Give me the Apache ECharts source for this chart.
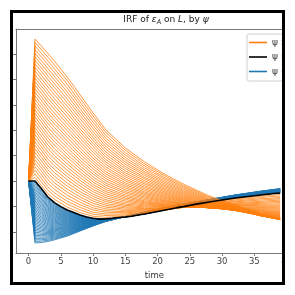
<!DOCTYPE html>
<html>
<head>
<meta charset="utf-8">
<script src="https://cdn.jsdelivr.net/npm/echarts@6/dist/echarts.min.js"></script>
<style>
html,body{margin:0;padding:0;background:#fff;}
#c{width:295px;height:295px;}
</style>
</head>
<body>
<div id="c"></div>
<script>
// ---- data ----
const timePoints = [0, 1, 2, 3, 4, 6, 8, 10, 12, 15, 18, 21, 24, 28, 32, 36, 39];
const baseTimes = [0,1,2,3,4,5,6,7,8,9,10,11,12,13,14,15,16,17,18,19,20,21,22,23,24,25,26,27,28,29,30,31,32,33,34,35,36,37,38,39];
const baseline = [0,0,-0.31,-0.63,-0.85,-1.01,-1.14,-1.24,-1.34,-1.42,-1.47,-1.50,-1.49,-1.47,-1.44,-1.42,-1.39,-1.34,-1.30,-1.25,-1.20,-1.15,-1.10,-1.05,-1.01,-0.96,-0.91,-0.87,-0.83,-0.79,-0.75,-0.71,-0.67,-0.64,-0.61,-0.58,-0.55,-0.52,-0.495,-0.47];

// orange curves (psi above baseline), one row per curve, values at timePoints
const orangeCurves = [
  [0,0.14,-0.18,-0.50,-0.72,-1.03,-1.24,-1.39,-1.43,-1.38,-1.28,-1.15,-1.02,-0.86,-0.71,-0.60,-0.53],
  [0,0.28,-0.04,-0.36,-0.59,-0.91,-1.14,-1.31,-1.36,-1.34,-1.26,-1.14,-1.03,-0.88,-0.75,-0.65,-0.59],
  [0,0.42,0.10,-0.23,-0.46,-0.80,-1.04,-1.23,-1.30,-1.30,-1.24,-1.13,-1.04,-0.91,-0.79,-0.70,-0.65],
  [0,0.56,0.24,-0.09,-0.33,-0.68,-0.94,-1.14,-1.23,-1.25,-1.21,-1.12,-1.04,-0.93,-0.82,-0.75,-0.70],
  [0,0.70,0.38,0.05,-0.20,-0.56,-0.84,-1.06,-1.17,-1.21,-1.18,-1.11,-1.04,-0.95,-0.86,-0.80,-0.75],
  [0,0.84,0.51,0.18,-0.07,-0.44,-0.73,-0.97,-1.10,-1.16,-1.15,-1.10,-1.04,-0.97,-0.89,-0.84,-0.80],
  [0,0.98,0.65,0.32,0.06,-0.32,-0.63,-0.88,-1.03,-1.11,-1.12,-1.09,-1.04,-0.99,-0.92,-0.88,-0.85],
  [0,1.12,0.79,0.45,0.19,-0.20,-0.52,-0.79,-0.96,-1.06,-1.09,-1.07,-1.04,-1.00,-0.94,-0.92,-0.90],
  [0,1.26,0.93,0.59,0.33,-0.08,-0.42,-0.70,-0.89,-1.01,-1.06,-1.05,-1.04,-1.01,-0.97,-0.96,-0.95],
  [0,1.40,1.06,0.72,0.46,0.05,-0.31,-0.61,-0.81,-0.96,-1.02,-1.03,-1.04,-1.02,-0.99,-1.00,-0.99],
  [0,1.54,1.20,0.86,0.60,0.17,-0.20,-0.52,-0.74,-0.91,-0.98,-1.01,-1.03,-1.03,-1.02,-1.04,-1.03],
  [0,1.68,1.34,1.00,0.73,0.29,-0.09,-0.42,-0.66,-0.85,-0.94,-0.99,-1.02,-1.04,-1.04,-1.07,-1.07],
  [0,1.82,1.48,1.14,0.87,0.42,0.02,-0.33,-0.58,-0.79,-0.90,-0.97,-1.01,-1.05,-1.06,-1.10,-1.11],
  [0,1.96,1.62,1.28,1.00,0.54,0.13,-0.23,-0.50,-0.73,-0.86,-0.94,-1.00,-1.05,-1.08,-1.13,-1.15],
  [0,2.10,1.76,1.42,1.14,0.67,0.25,-0.14,-0.42,-0.67,-0.82,-0.92,-0.99,-1.06,-1.10,-1.16,-1.19],
  [0,2.24,1.90,1.56,1.27,0.80,0.36,-0.04,-0.34,-0.61,-0.78,-0.89,-0.97,-1.06,-1.11,-1.18,-1.22],
  [0,2.38,2.04,1.70,1.41,0.93,0.48,0.06,-0.26,-0.55,-0.73,-0.86,-0.96,-1.06,-1.12,-1.21,-1.25],
  [0,2.52,2.18,1.84,1.55,1.05,0.59,0.16,-0.17,-0.48,-0.68,-0.82,-0.94,-1.06,-1.13,-1.23,-1.28],
  [0,2.66,2.32,1.98,1.69,1.18,0.71,0.27,-0.09,-0.42,-0.63,-0.79,-0.92,-1.06,-1.14,-1.25,-1.31],
  [0,2.80,2.46,2.12,1.83,1.31,0.82,0.37,0.00,-0.35,-0.58,-0.76,-0.90,-1.05,-1.15,-1.27,-1.33],
  [0,2.94,2.60,2.26,1.97,1.45,0.94,0.48,0.09,-0.28,-0.53,-0.72,-0.88,-1.04,-1.16,-1.29,-1.36],
  [0,3.07,2.74,2.40,2.11,1.58,1.06,0.58,0.18,-0.21,-0.48,-0.68,-0.85,-1.03,-1.16,-1.30,-1.38],
  [0,3.21,2.88,2.55,2.25,1.71,1.18,0.69,0.27,-0.14,-0.43,-0.64,-0.82,-1.02,-1.16,-1.32,-1.40],
  [0,3.35,3.02,2.69,2.39,1.84,1.30,0.79,0.36,-0.07,-0.37,-0.60,-0.79,-1.01,-1.16,-1.33,-1.42],
  [0,3.49,3.17,2.83,2.53,1.98,1.43,0.90,0.46,0.01,-0.31,-0.56,-0.76,-1.00,-1.16,-1.34,-1.44],
  [0,3.63,3.31,2.97,2.67,2.11,1.55,1.01,0.55,0.08,-0.25,-0.51,-0.73,-0.98,-1.16,-1.35,-1.46],
  [0,3.77,3.45,3.12,2.82,2.25,1.68,1.13,0.65,0.16,-0.19,-0.47,-0.70,-0.97,-1.16,-1.36,-1.47],
  [0,3.91,3.59,3.26,2.96,2.38,1.80,1.24,0.74,0.24,-0.12,-0.42,-0.66,-0.95,-1.15,-1.37,-1.48],
  [0,4.05,3.73,3.41,3.11,2.52,1.93,1.36,0.84,0.32,-0.06,-0.37,-0.63,-0.93,-1.14,-1.37,-1.49],
  [0,4.19,3.87,3.55,3.25,2.66,2.05,1.47,0.94,0.40,0.01,-0.32,-0.59,-0.90,-1.13,-1.37,-1.50],
  [0,4.33,4.02,3.70,3.40,2.80,2.18,1.59,1.04,0.49,0.08,-0.27,-0.55,-0.88,-1.12,-1.37,-1.51],
  [0,4.47,4.16,3.84,3.54,2.94,2.31,1.70,1.14,0.57,0.14,-0.21,-0.51,-0.85,-1.11,-1.37,-1.52],
  [0,4.61,4.31,3.99,3.69,3.08,2.45,1.82,1.25,0.66,0.22,-0.16,-0.47,-0.83,-1.09,-1.37,-1.52],
  [0,4.75,4.45,4.13,3.83,3.22,2.58,1.94,1.35,0.74,0.29,-0.10,-0.42,-0.80,-1.07,-1.36,-1.52],
  [0,4.89,4.59,4.28,3.98,3.37,2.71,2.06,1.46,0.83,0.36,-0.04,-0.38,-0.77,-1.06,-1.36,-1.52],
  [0,5.03,4.73,4.43,4.12,3.51,2.84,2.18,1.57,0.92,0.43,0.02,-0.33,-0.74,-1.04,-1.35,-1.52],
  [0,5.17,4.88,4.58,4.27,3.66,2.98,2.31,1.68,1.02,0.51,0.09,-0.28,-0.71,-1.02,-1.34,-1.52],
  [0,5.31,5.02,4.72,4.42,3.80,3.11,2.43,1.79,1.11,0.59,0.15,-0.23,-0.67,-0.99,-1.33,-1.51],
  [0,5.45,5.17,4.87,4.57,3.95,3.25,2.56,1.90,1.21,0.67,0.22,-0.18,-0.63,-0.97,-1.32,-1.51],
  [0,5.59,5.31,5.02,4.72,4.09,3.39,2.68,2.01,1.30,0.75,0.28,-0.12,-0.59,-0.94,-1.30,-1.50]
];

// blue curves (psi below baseline): one row per time point, one column per curve
const blueByTime = [
  [0,0,0,0,0,0,0,0,0,0,0,0,0,0,0,0,0,0,0,0,0,0,0,0,0,0,0,0,0,0,0,0,0,0,0,0,0,0,0,0],
  [-0.061,-0.122,-0.183,-0.244,-0.305,-0.366,-0.427,-0.488,-0.549,-0.610,-0.671,-0.732,-0.793,-0.854,-0.915,-0.976,-1.037,-1.098,-1.159,-1.220,-1.281,-1.342,-1.403,-1.464,-1.525,-1.586,-1.647,-1.708,-1.769,-1.830,-1.891,-1.952,-2.013,-2.074,-2.135,-2.196,-2.257,-2.318,-2.379,-2.440],
  [-0.363,-0.416,-0.468,-0.521,-0.574,-0.627,-0.679,-0.732,-0.785,-0.838,-0.890,-0.943,-0.996,-1.049,-1.101,-1.154,-1.207,-1.260,-1.312,-1.365,-1.418,-1.471,-1.523,-1.576,-1.629,-1.682,-1.734,-1.787,-1.840,-1.893,-1.945,-1.998,-2.051,-2.104,-2.156,-2.209,-2.262,-2.315,-2.367,-2.420],
  [-0.674,-0.718,-0.761,-0.805,-0.849,-0.893,-0.936,-0.980,-1.024,-1.068,-1.111,-1.155,-1.199,-1.243,-1.286,-1.330,-1.374,-1.418,-1.461,-1.505,-1.549,-1.593,-1.636,-1.680,-1.724,-1.768,-1.811,-1.855,-1.899,-1.943,-1.986,-2.030,-2.074,-2.118,-2.161,-2.205,-2.249,-2.293,-2.336,-2.380],
  [-0.887,-0.924,-0.960,-0.997,-1.034,-1.071,-1.107,-1.144,-1.181,-1.218,-1.254,-1.291,-1.328,-1.365,-1.401,-1.438,-1.475,-1.512,-1.548,-1.585,-1.622,-1.659,-1.695,-1.732,-1.769,-1.806,-1.842,-1.879,-1.916,-1.953,-1.989,-2.026,-2.063,-2.100,-2.136,-2.173,-2.210,-2.247,-2.283,-2.320],
  [-1.166,-1.192,-1.217,-1.243,-1.269,-1.295,-1.320,-1.346,-1.372,-1.398,-1.423,-1.449,-1.475,-1.501,-1.526,-1.552,-1.578,-1.604,-1.629,-1.655,-1.681,-1.707,-1.732,-1.758,-1.784,-1.810,-1.835,-1.861,-1.887,-1.913,-1.938,-1.964,-1.990,-2.016,-2.041,-2.067,-2.093,-2.119,-2.144,-2.170],
  [-1.356,-1.372,-1.387,-1.403,-1.419,-1.435,-1.450,-1.466,-1.482,-1.498,-1.513,-1.529,-1.545,-1.561,-1.576,-1.592,-1.608,-1.624,-1.639,-1.655,-1.671,-1.687,-1.702,-1.718,-1.734,-1.750,-1.765,-1.781,-1.797,-1.813,-1.828,-1.844,-1.860,-1.876,-1.891,-1.907,-1.923,-1.939,-1.954,-1.970],
  [-1.478,-1.485,-1.493,-1.500,-1.508,-1.515,-1.523,-1.530,-1.538,-1.545,-1.553,-1.560,-1.568,-1.575,-1.583,-1.590,-1.598,-1.605,-1.613,-1.620,-1.628,-1.635,-1.643,-1.650,-1.658,-1.665,-1.673,-1.680,-1.688,-1.695,-1.703,-1.710,-1.718,-1.725,-1.733,-1.740,-1.748,-1.755,-1.763,-1.770],
  [-1.493,-1.495,-1.498,-1.500,-1.503,-1.505,-1.508,-1.510,-1.513,-1.515,-1.518,-1.520,-1.523,-1.525,-1.528,-1.530,-1.533,-1.535,-1.538,-1.540,-1.543,-1.545,-1.548,-1.550,-1.553,-1.555,-1.558,-1.560,-1.563,-1.565,-1.568,-1.570,-1.573,-1.575,-1.578,-1.580,-1.583,-1.585,-1.588,-1.590],
  [-1.420,-1.419,-1.419,-1.418,-1.418,-1.417,-1.417,-1.416,-1.416,-1.415,-1.415,-1.414,-1.414,-1.413,-1.413,-1.412,-1.412,-1.411,-1.411,-1.410,-1.410,-1.409,-1.409,-1.408,-1.408,-1.407,-1.407,-1.406,-1.406,-1.405,-1.405,-1.404,-1.404,-1.403,-1.403,-1.402,-1.402,-1.401,-1.401,-1.400],
  [-1.298,-1.296,-1.294,-1.292,-1.290,-1.288,-1.286,-1.284,-1.282,-1.280,-1.278,-1.276,-1.274,-1.272,-1.270,-1.268,-1.266,-1.264,-1.262,-1.260,-1.258,-1.256,-1.254,-1.252,-1.250,-1.248,-1.246,-1.244,-1.242,-1.240,-1.238,-1.236,-1.234,-1.232,-1.230,-1.228,-1.226,-1.224,-1.222,-1.220],
  [-1.148,-1.146,-1.143,-1.141,-1.139,-1.137,-1.134,-1.132,-1.130,-1.128,-1.125,-1.123,-1.121,-1.119,-1.116,-1.114,-1.112,-1.110,-1.107,-1.105,-1.103,-1.101,-1.098,-1.096,-1.094,-1.092,-1.089,-1.087,-1.085,-1.083,-1.080,-1.078,-1.076,-1.074,-1.071,-1.069,-1.067,-1.065,-1.062,-1.060],
  [-1.008,-1.005,-1.003,-1.000,-0.998,-0.995,-0.993,-0.990,-0.988,-0.985,-0.983,-0.980,-0.978,-0.975,-0.973,-0.970,-0.968,-0.965,-0.963,-0.960,-0.958,-0.955,-0.953,-0.950,-0.948,-0.945,-0.943,-0.940,-0.938,-0.935,-0.933,-0.930,-0.928,-0.925,-0.923,-0.920,-0.918,-0.915,-0.913,-0.910],
  [-0.828,-0.825,-0.823,-0.820,-0.818,-0.815,-0.813,-0.810,-0.808,-0.805,-0.803,-0.800,-0.798,-0.795,-0.793,-0.790,-0.788,-0.785,-0.783,-0.780,-0.778,-0.775,-0.773,-0.770,-0.768,-0.765,-0.763,-0.760,-0.758,-0.755,-0.753,-0.750,-0.748,-0.745,-0.743,-0.740,-0.738,-0.735,-0.733,-0.730],
  [-0.667,-0.664,-0.661,-0.658,-0.655,-0.652,-0.649,-0.646,-0.643,-0.640,-0.637,-0.634,-0.631,-0.628,-0.625,-0.622,-0.619,-0.616,-0.613,-0.610,-0.607,-0.604,-0.601,-0.598,-0.595,-0.592,-0.589,-0.586,-0.583,-0.580,-0.577,-0.574,-0.571,-0.568,-0.565,-0.562,-0.559,-0.556,-0.553,-0.550],
  [-0.546,-0.543,-0.539,-0.535,-0.531,-0.528,-0.524,-0.520,-0.516,-0.513,-0.509,-0.505,-0.501,-0.498,-0.494,-0.490,-0.486,-0.483,-0.479,-0.475,-0.471,-0.468,-0.464,-0.460,-0.456,-0.453,-0.449,-0.445,-0.441,-0.438,-0.434,-0.430,-0.426,-0.423,-0.419,-0.415,-0.411,-0.408,-0.404,-0.400],
  [-0.466,-0.462,-0.457,-0.453,-0.449,-0.445,-0.440,-0.436,-0.432,-0.428,-0.423,-0.419,-0.415,-0.411,-0.406,-0.402,-0.398,-0.394,-0.389,-0.385,-0.381,-0.377,-0.372,-0.368,-0.364,-0.360,-0.355,-0.351,-0.347,-0.343,-0.338,-0.334,-0.330,-0.326,-0.321,-0.317,-0.313,-0.309,-0.304,-0.300]
];

const xTicks = [0, 5, 10, 15, 20, 25, 30, 35, 40];
const yTicks = [-2, -1, 0, 1, 2, 3, 4, 5];
const legendNames = ['ψ > 1', 'ψ = 1', 'ψ < 1'];
const colors = { up: '#ff7f0e', base: '#000000', down: '#1f77b4' };

// ---- chart ----
const chart = echarts.init(document.getElementById('c'), null, { renderer: 'canvas', width: 295, height: 295 });
const FONT = 'DejaVu Sans';
const spine = '#777777';

const series = [];
for (let j = 0; j < blueByTime[0].length; j++) {
  series.push({
    type: 'line', name: legendNames[2], symbol: 'none', silent: true, z: 2,
    data: timePoints.map((t, i) => [t, blueByTime[i][j]]),
    lineStyle: { color: colors.down, width: 0.8 }, itemStyle: { color: colors.down }
  });
}
orangeCurves.forEach(v => series.push({
  type: 'line', name: legendNames[0], symbol: 'none', silent: true, z: 3,
  data: timePoints.map((t, i) => [t, v[i]]),
  lineStyle: { color: colors.up, width: 0.8 }, itemStyle: { color: colors.up }
}));
series.push({
  type: 'line', name: legendNames[1], symbol: 'none', silent: true, z: 4,
  data: baseTimes.map((t, i) => [t, baseline[i]]),
  lineStyle: { color: colors.base, width: 1.6 }, itemStyle: { color: colors.base }
});

const option = {
  animation: false,
  backgroundColor: '#ffffff',
  textStyle: { fontFamily: FONT },
  title: {
    text: '{n|IRF of }{i|ε}{s|A}{n| on }{i|L}{n|, by }{i|ψ}',
    left: 166, top: 14, textAlign: 'center', padding: 0,
    textStyle: {
      fontWeight: 'normal',
      rich: {
        n: { fontFamily: FONT, fontSize: 9, fontWeight: 'normal', color: '#222', lineHeight: 12 },
        i: { fontFamily: FONT, fontSize: 9, fontWeight: 'normal', fontStyle: 'italic', color: '#222', lineHeight: 12 },
        s: { fontFamily: FONT, fontSize: 6.5, fontWeight: 'normal', fontStyle: 'italic', color: '#222', lineHeight: 12, padding: [5, 0, 0, 0] }
      }
    }
  },
  legend: {
    data: legendNames.map(n => ({ name: n, icon: 'rect' })),
    orient: 'vertical', left: 247, top: 34,
    padding: [3, 4, 4, 2], itemWidth: 18, itemHeight: 1.6, itemGap: 3.5,
    backgroundColor: 'rgba(255,255,255,0.85)', borderColor: '#d0d0d0', borderWidth: 1, borderRadius: 2,
    textStyle: { fontFamily: FONT, fontSize: 9, color: '#333', lineHeight: 11 },
    selectedMode: false, z: 5
  },
  grid: { left: 16, top: 29, width: 300, height: 224, show: false },
  xAxis: [{
    type: 'value', min: -1.95, max: 40.95,
    name: 'time', nameLocation: 'middle', nameGap: 16,
    nameTextStyle: { fontFamily: FONT, fontSize: 8.5, color: '#333' },
    axisLine: { show: true, onZero: false, lineStyle: { color: spine, width: 1 } },
    axisTick: { show: true, length: 3, customValues: xTicks, lineStyle: { color: spine } },
    axisLabel: { show: true, customValues: xTicks, fontFamily: FONT, fontSize: 8.5, color: '#444', margin: 4 },
    splitLine: { show: false }
  }, {
    type: 'value', position: 'top', min: -1.95, max: 40.95,
    axisLine: { show: true, onZero: false, lineStyle: { color: spine, width: 1 } },
    axisTick: { show: false }, axisLabel: { show: false }, splitLine: { show: false }
  }],
  yAxis: [{
    type: 'value', min: -2.835, max: 5.984,
    axisLine: { show: true, onZero: false, lineStyle: { color: spine, width: 1 } },
    axisTick: { show: true, length: 3, customValues: yTicks, lineStyle: { color: spine } },
    axisLabel: { show: false },
    splitLine: { show: false }
  }],
  graphic: { elements: [
    { type: 'rect', z: 100, shape: { x: 285, y: 0, width: 10, height: 295 }, style: { fill: '#ffffff' }, silent: true },
    { type: 'rect', z: 101, shape: { x: 11.5, y: 11.5, width: 272, height: 272 }, style: { fill: null, stroke: '#000', lineWidth: 3 }, silent: true }
  ] },
  series: series
};
chart.setOption(option);
</script>
</body>
</html>
